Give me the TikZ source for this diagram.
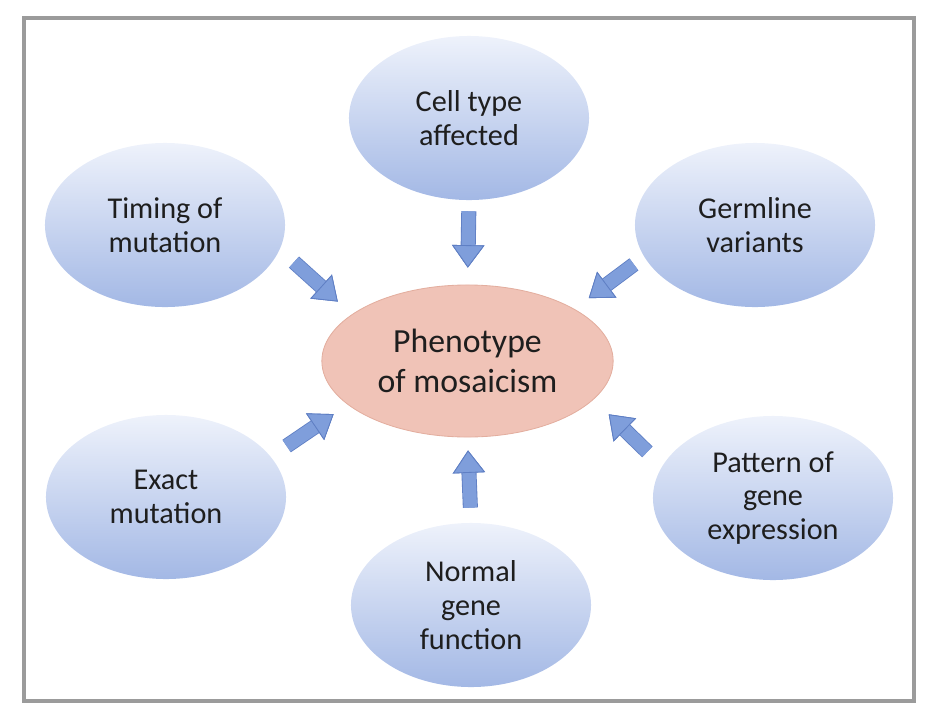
\documentclass[tikz,border=0pt]{standalone}
\usepackage{fontspec}
\setmainfont{Carlito}
\usepackage{xcolor}
\usetikzlibrary{shapes.geometric, arrows.meta}
\definecolor{FactorTop}{HTML}{EEF2FB}
\definecolor{FactorBottom}{HTML}{A3B8E5}
\definecolor{CoreFill}{HTML}{F0C3B7}
\definecolor{CoreEdge}{HTML}{E3AE9F}
\definecolor{ArrowFill}{HTML}{7F9EDB}
\definecolor{ArrowEdge}{HTML}{5F7FC4}
\definecolor{FrameGray}{HTML}{9B9B9B}
\definecolor{TextDark}{HTML}{1E1E1E}
\tikzset{
    factor/.style={
        ellipse,
        top color=FactorTop,
        bottom color=FactorBottom,
        minimum width=6cm,
        minimum height=4.1cm,
        inner sep=0pt,
        text=TextDark,
        font=\fontsize{21.5}{24}\selectfont,
        align=center
    },
    core/.style={
        ellipse,
        draw=CoreEdge,
        line width=0.6pt,
        fill=CoreFill,
        minimum width=7.28cm,
        minimum height=3.8cm,
        inner sep=0pt,
        text=TextDark,
        font=\fontsize{24}{28.5}\selectfont,
        align=center
    },
    fatarrow/.style={
        draw=ArrowFill,
        line width=9.5pt,
        -{Triangle[width=23pt, length=16pt, line width=0.6pt, color=ArrowEdge, fill=ArrowFill]},
        preaction={
            draw=ArrowEdge,
            line width=10.7pt,
            -{Triangle[width=23pt, length=16pt, line width=0.6pt]}
        }
    },
    frame/.style={
        draw=FrameGray,
        line width=2.2pt
    }
}
\begin{document}
\begin{tikzpicture}[x=0.025cm, y=-0.025cm]
        \useasboundingbox (0,0) rectangle (929,718);
        % Outer frame
        \draw[frame] (24,18) rectangle (914,701);

        % Centre
        \node[core] (pheno) at (467.5,361) {Phenotype\\of mosaicism};

        % Surrounding factors
        \node[factor] (cell) at (469,118) {Cell type\\affected};
        \node[factor] (timing) at (165,225) {Timing of\\mutation};
        \node[factor] (germline) at (755,225) {Germline\\variants};
        \node[factor] (exact) at (166,497) {Exact\\mutation};
        \node[factor] (pattern) at (773,498) {Pattern of\\gene\\expression};
        \node[factor] (normal) at (471,605) {Normal\\gene\\function};

        % Arrows
        \draw[fatarrow, shorten <=7.8pt, shorten >=12pt] (cell.south) -- (pheno.north);
        \draw[fatarrow, shorten <=13.5pt, shorten >=13.5pt] (timing.-12.5) -- (pheno.158.8);
        \draw[fatarrow, shorten <=9pt, shorten >=12.8pt] (germline.196.7) -- (pheno.26.8);
        \draw[fatarrow, shorten <=13.5pt, shorten >=12pt] (exact.21.5) -- (pheno.200.8);
        \draw[fatarrow, shorten <=14.6pt, shorten >=15pt] (pattern.164.5) -- (pheno.-17.6);
        \draw[fatarrow, shorten <=10.7pt, shorten >=9.2pt] (normal.north) -- (pheno.south);
    \end{tikzpicture}
\end{document}
